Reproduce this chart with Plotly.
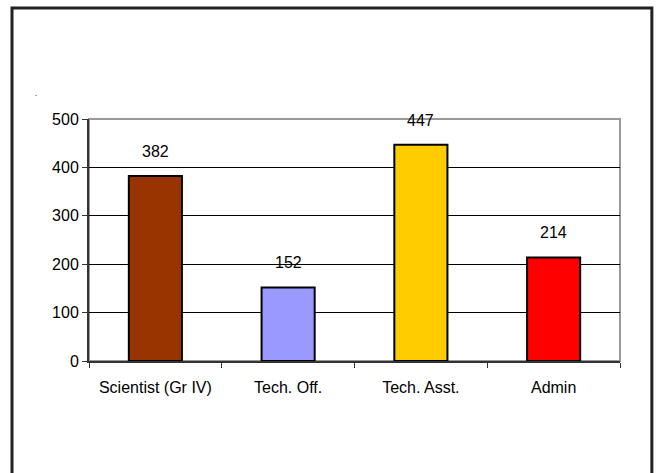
import plotly.graph_objects as go

# staff categories and head counts
categorias = ["Scientist (Gr IV)", "Tech. Off.", "Tech. Asst.", "Admin"]
valores = [382, 152, 447, 214]
cores = ["#993300", "#9999FF", "#FFCC00", "#FF0000"]
y_ticks = [0, 100, 200, 300, 400, 500]

fonte = dict(family="Liberation Sans, Arial, sans-serif", size=16, color="#000000")

fig = go.Figure()

fig.add_trace(go.Bar(
    x=categorias,
    y=valores,
    width=0.4,
    marker=dict(color=cores, line=dict(color="#000000", width=2)),
    hoverinfo="x+y",
))

# rotulos de valor acima das barras
for c, v in zip(categorias, valores):
    fig.add_annotation(
        x=c, y=v, text=str(v), showarrow=False,
        yanchor="bottom", yshift=14, font=fonte,
    )

# borda cinza da area do grafico
fig.add_shape(type="rect", xref="paper", yref="paper", x0=0, y0=0, x1=1, y1=1,
              line=dict(color="#999999", width=2), layer="below")

# moldura externa
fig.add_shape(type="rect", xref="paper", yref="paper",
              x0=-0.145, y0=-0.49, x1=1.06, y1=1.459,
              line=dict(color="#222222", width=3))

# ponto solto no canto
fig.add_annotation(x=-0.105, y=1.14, xref="paper", yref="paper", text=".",
                   showarrow=False, font=dict(size=8, color="#000000"))

fig.update_xaxes(
    showline=True, linecolor="#333333", linewidth=2,
    ticks="outside", tickson="boundaries", ticklen=5, tickcolor="#333333",
    showgrid=False, tickfont=fonte, ticklabelstandoff=11,
)

fig.update_yaxes(
    range=[0, 500], tickvals=y_ticks,
    showline=True, linecolor="#333333", linewidth=2,
    ticks="outside", ticklen=5, tickcolor="#333333",
    showgrid=True, gridcolor="#000000", gridwidth=1,
    zeroline=False, tickfont=fonte,
)

fig.update_layout(
    width=656, height=473,
    margin=dict(l=89, r=36, t=119, b=112),
    plot_bgcolor="#FFFFFF", paper_bgcolor="#FFFFFF",
    showlegend=False, bargap=0.6,
)

# tira a margem da pagina pra figura ocupar a janela toda
fig.write_html(
    "out.html",
    config={"displayModeBar": False},
    post_script="document.body.style.margin='0';document.body.style.overflow='hidden';",
)
